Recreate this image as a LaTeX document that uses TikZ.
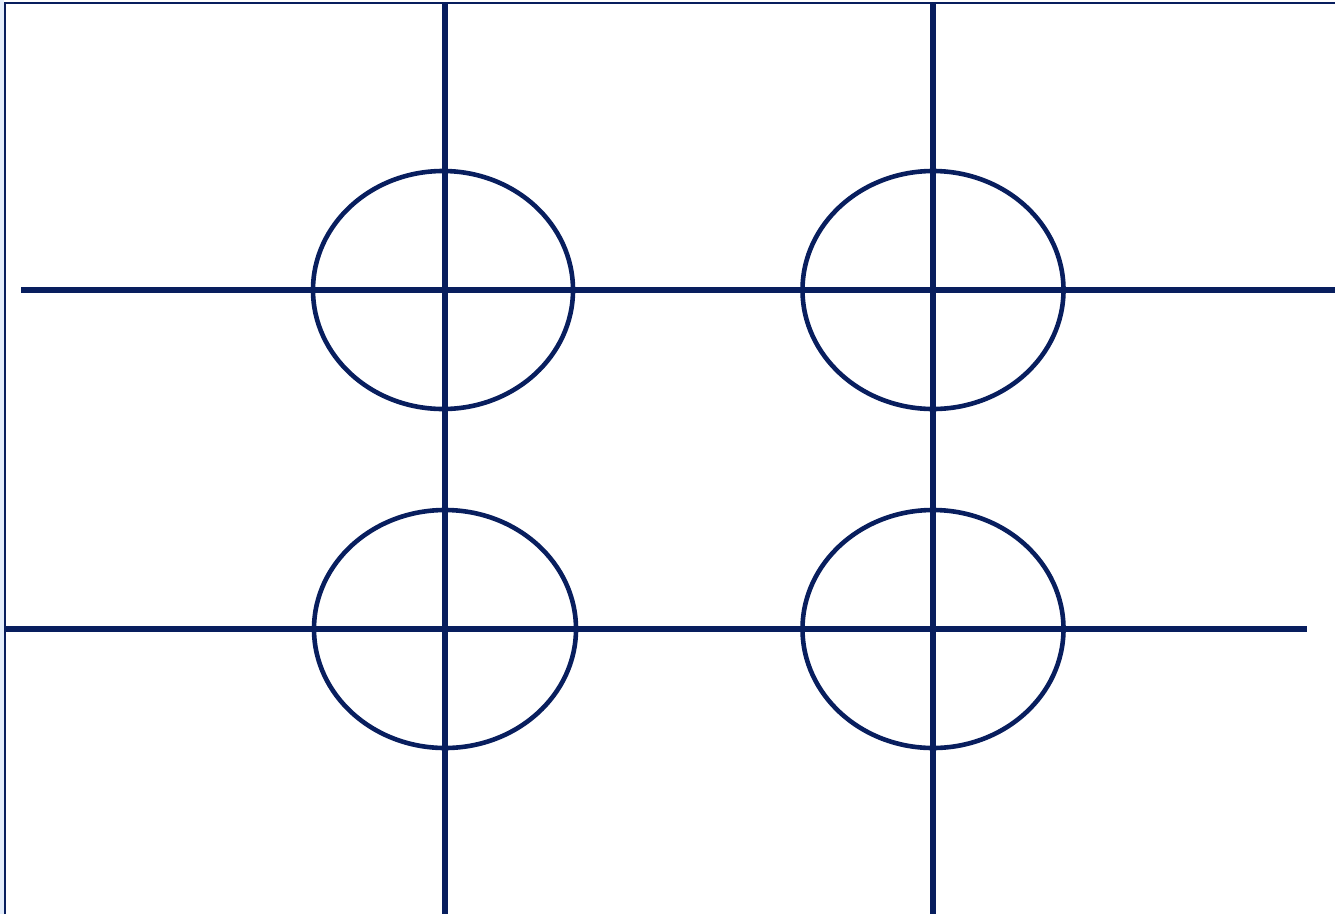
\documentclass[tikz,border=0pt]{standalone}
\definecolor{navy}{RGB}{8,30,94}
\definecolor{paleblue}{RGB}{228,238,252}
\begin{document}
\begin{tikzpicture}[x=1pt,y=-1pt,
  grid/.style={draw=navy,line width=5.5pt},
  ring/.style={draw=navy,line width=4.6pt},
  frame/.style={draw=navy,line width=2.4pt}]
\useasboundingbox (0,0) rectangle (1335,914);
\fill[white] (0,0) rectangle (1335,914);
\fill[paleblue] (0,0) rectangle (4,914);
\draw[frame] (5,914) -- (5,3) -- (1335,3);
% ellipses
\coordinate (c1) at (443,290);
\coordinate (c2) at (933,290);
\coordinate (c3) at (445,629);
\coordinate (c4) at (933,629);
\draw[ring] (c1) ellipse [x radius=130, y radius=119];
\draw[ring] (c2) ellipse [x radius=130.5, y radius=119];
\draw[ring] (c3) ellipse [x radius=131, y radius=119];
\draw[ring] (c4) ellipse [x radius=130.5, y radius=119];
% grid lines
\coordinate (v1t) at (445,3);
\coordinate (v1b) at (445,914);
\coordinate (v2t) at (933,3);
\coordinate (v2b) at (933,914);
\coordinate (h1l) at (21,290);
\coordinate (h1r) at (1335,290);
\coordinate (h2l) at (5,629);
\coordinate (h2r) at (1307,629);
\draw[grid] (v1t) -- (v1b);
\draw[grid] (v2t) -- (v2b);
\draw[grid] (h1l) -- (h1r);
\draw[grid] (h2l) -- (h2r);
\end{tikzpicture}
\end{document}
